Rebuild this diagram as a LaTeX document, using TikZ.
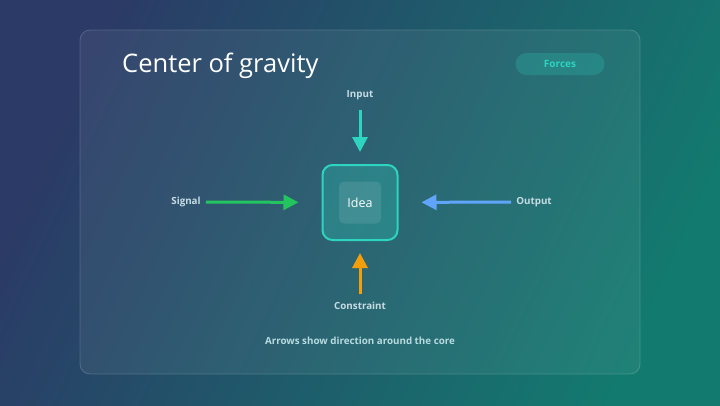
\documentclass[tikz,border=0pt]{standalone}
\usepackage{fontspec}
\setmainfont{Open Sans}
\usepackage{tikz}
\usetikzlibrary{arrows.meta, positioning, calc}
\usepackage{xcolor}
\definecolor{bgA}{HTML}{2B3A66}
\definecolor{bgB}{HTML}{137A6F}
\definecolor{tealA}{HTML}{2DD4BF}
\definecolor{greenA}{HTML}{22C55E}
\definecolor{blueA}{HTML}{60A5FA}
\definecolor{amberA}{HTML}{F59E0B}
\definecolor{labelc}{HTML}{C6DCE4}
\tikzset{
    card/.style={rounded corners=10pt, fill=white, fill opacity=0.06, draw=white, draw opacity=0.18, line width=0.8pt},
    lbl/.style={font=\fontsize{9.8}{11}\selectfont\bfseries, text=labelc, inner sep=2pt},
    force/.style={line width=3pt, -{Triangle[length=15pt, width=15pt]}},
    core/.style={rectangle, rounded corners=10pt, draw=tealA, line width=2pt, fill=tealA, fill opacity=0.28, text opacity=1, minimum size=75pt},
    inner/.style={rectangle, rounded corners=5pt, fill=white, fill opacity=0.1, text opacity=1, minimum size=42pt, text=white, font=\fontsize{12.5}{14}\selectfont}
}
\begin{document}
\begin{tikzpicture}[x=1pt, y=-1pt]
        \useasboundingbox (0,0) rectangle (720,405);
        \shade[shading=axis, top color=bgA, bottom color=bgB, shading angle=65] (0,0) rectangle (720,405);
        % panel
        \draw[card] (80,30) rectangle (640,374);
        \node[anchor=west, text=white, font=\fontsize{25.5}{30}\selectfont, inner sep=0pt] (title) at (122,66) {Center of gravity};
        \node[rounded corners=11pt, fill=tealA, fill opacity=0.22, text opacity=1, text=tealA, font=\fontsize{10}{12}\selectfont\bfseries, minimum width=89pt, minimum height=22pt] (tag) at (560,64) {Forces};
        % core
        \node[core] (core) at (360,202.5) {};
        \node[inner] (idea) at (core.center) {Idea};
        % force labels
        \node[lbl] (input) at (360,95) {Input};
        \node[lbl] (signal) at (186,202) {Signal};
        \node[lbl] (output) at (534,202) {Output};
        \node[lbl] (constraint) at (360,306) {Constraint};
        \draw[force, tealA, shorten <=8pt, shorten >=12pt] (input) -- (core);
        \draw[force, greenA, shorten <=3pt, shorten >=23pt] (signal) -- (core);
        \draw[force, blueA, shorten <=3pt, shorten >=23pt] (output) -- (core);
        \draw[force, amberA, shorten <=6pt, shorten >=12pt] (constraint) -- (core);
        \node[lbl, text=labelc!90!tealA] (caption) at (360,341) {Arrows show direction around the core};
    \end{tikzpicture}
\end{document}
